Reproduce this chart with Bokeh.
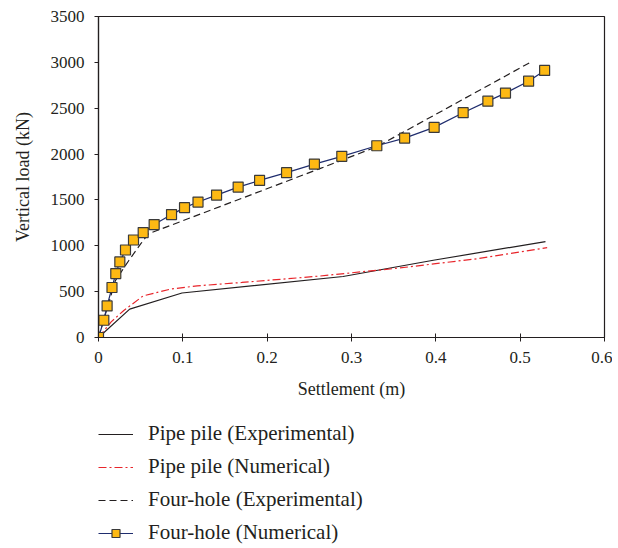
from bokeh.plotting import figure
from bokeh.layouts import column
from bokeh.models import Range1d, Legend, LegendItem, FixedTicker
from bokeh.embed import file_html
from bokeh.resources import INLINE

# Data
pipe_exp_x = [0.0, 0.037, 0.099, 0.29, 0.397, 0.53]
pipe_exp_y = [0, 310, 485, 665, 842, 1046]

pipe_num_x = [0.0, 0.015, 0.030, 0.053, 0.085, 0.117, 0.17, 0.26, 0.357, 0.45, 0.532]
pipe_num_y = [0, 170, 295, 454, 527, 563, 600, 668, 758, 860, 980]

four_exp_x = [0.0, 0.02, 0.036, 0.05, 0.059, 0.2624, 0.33, 0.514]
four_exp_y = [0, 620, 840, 1020, 1130, 1841, 2080, 3010]

four_num_x = [0.0, 0.0063, 0.0102, 0.016, 0.0205, 0.0253, 0.032, 0.0415, 0.053, 0.066,
              0.0866, 0.102, 0.118, 0.140, 0.1656, 0.191, 0.223, 0.256, 0.2885, 0.330,
              0.363, 0.398, 0.4324, 0.4617, 0.4826, 0.51, 0.529]
four_num_y = [0, 188, 344, 545, 697, 824, 954, 1063, 1144, 1231,
              1340, 1416, 1477, 1553, 1640, 1713, 1797, 1891, 1975, 2091,
              2174, 2291, 2451, 2577, 2665, 2795, 2912]

series_labels = ["Pipe pile (Experimental)", "Pipe pile (Numerical)",
                 "Four-hole (Experimental)", "Four-hole (Numerical)"]

x_ticks = [0, 0.1, 0.2, 0.3, 0.4, 0.5, 0.6]
x_tick_labels = ["0", "0.1", "0.2", "0.3", "0.4", "0.5", "0.6"]
y_ticks = [0, 500, 1000, 1500, 2000, 2500, 3000, 3500]

FONT = "Liberation Serif"
TXT = "#231f20"
RED = "#e8252b"
NAVY = "#1f2d6e"
GOLD = "#fdb913"
MK_LINE = "#3a3a3a"

p = figure(width=612, height=420, output_backend="svg", toolbar_location=None,
           x_range=Range1d(0, 0.6), y_range=Range1d(0, 3500),
           min_border_left=98, min_border_right=8, min_border_top=16,
           min_border_bottom=83)

p.xgrid.visible = False
p.ygrid.visible = False
p.outline_line_color = TXT
p.outline_line_width = 1.2

p.line(pipe_exp_x, pipe_exp_y, line_color=TXT, line_width=1.2)
p.line(pipe_num_x, pipe_num_y, line_color=RED, line_width=1.2, line_dash="8 3 2 3")
p.line(four_exp_x, four_exp_y, line_color=TXT, line_width=1.2, line_dash="7 4")
p.line(four_num_x, four_num_y, line_color=NAVY, line_width=1.2)
p.scatter(four_num_x, four_num_y, marker="square", size=10,
          fill_color=GOLD, line_color=MK_LINE, line_width=1.2)

xa = p.xaxis[0]
xa.ticker = FixedTicker(ticks=x_ticks)
xa.major_label_overrides = {t: l for t, l in zip(x_ticks, x_tick_labels)}
xa.axis_label = "Settlement (m)"
ya = p.yaxis[0]
ya.ticker = FixedTicker(ticks=y_ticks)
ya.axis_label = "Vertical load (kN)"

for ax in (xa, ya):
    ax.axis_line_color = TXT
    ax.axis_line_width = 1.2
    ax.major_tick_line_color = TXT
    ax.minor_tick_line_color = None
    ax.major_label_text_font = FONT
    ax.major_label_text_font_size = "17px"
    ax.major_label_text_color = TXT
    ax.axis_label_text_font = FONT
    ax.axis_label_text_font_size = "18px"
    ax.axis_label_text_font_style = "normal"
    ax.axis_label_text_color = TXT

xa.major_tick_in = 4
xa.major_tick_out = 4
xa.major_label_standoff = 10
xa.axis_label_standoff = 13
ya.major_tick_in = 0
ya.major_tick_out = 4
ya.major_label_standoff = 10
ya.axis_label_standoff = 15

# Legend figure below the chart (frame aligns with the chart's frame)
p2 = figure(width=612, height=125, output_backend="svg", toolbar_location=None,
            x_range=Range1d(0, 1), y_range=Range1d(0, 1),
            x_axis_type=None, y_axis_type=None,
            min_border_left=98, min_border_right=8, min_border_top=0, min_border_bottom=0)
p2.xgrid.visible = False
p2.ygrid.visible = False
p2.outline_line_color = None

# legend-only renderers, placed outside the visible range
off_x = [5, 6]
off_y = [5, 6]
g1 = p2.line(off_x, off_y, line_color=TXT, line_width=1.2)
g2 = p2.line(off_x, off_y, line_color=RED, line_width=1.2, line_dash="8 3 2 3")
g3 = p2.line(off_x, off_y, line_color=TXT, line_width=1.2, line_dash="7 4")
g4 = p2.line(off_x, off_y, line_color=NAVY, line_width=1.2)
g4m = p2.scatter(off_x, off_y, marker="square", size=9,
                 fill_color=GOLD, line_color=MK_LINE, line_width=1.2)

legend = Legend(items=[
    LegendItem(label=series_labels[0], renderers=[g1]),
    LegendItem(label=series_labels[1], renderers=[g2]),
    LegendItem(label=series_labels[2], renderers=[g3]),
    LegendItem(label=series_labels[3], renderers=[g4, g4m]),
], location=(0, 0), orientation="vertical")
legend.border_line_color = None
legend.background_fill_alpha = 0
legend.label_text_font = FONT
legend.label_text_font_size = "21px"
legend.label_text_color = TXT
legend.glyph_width = 35
legend.glyph_height = 20
legend.label_height = 20
legend.label_standoff = 15
legend.spacing = 8
legend.padding = 0
legend.margin = 0
p2.add_layout(legend)

layout = column(p, p2, spacing=0)
open("out.html", "w").write(file_html(layout, INLINE))
